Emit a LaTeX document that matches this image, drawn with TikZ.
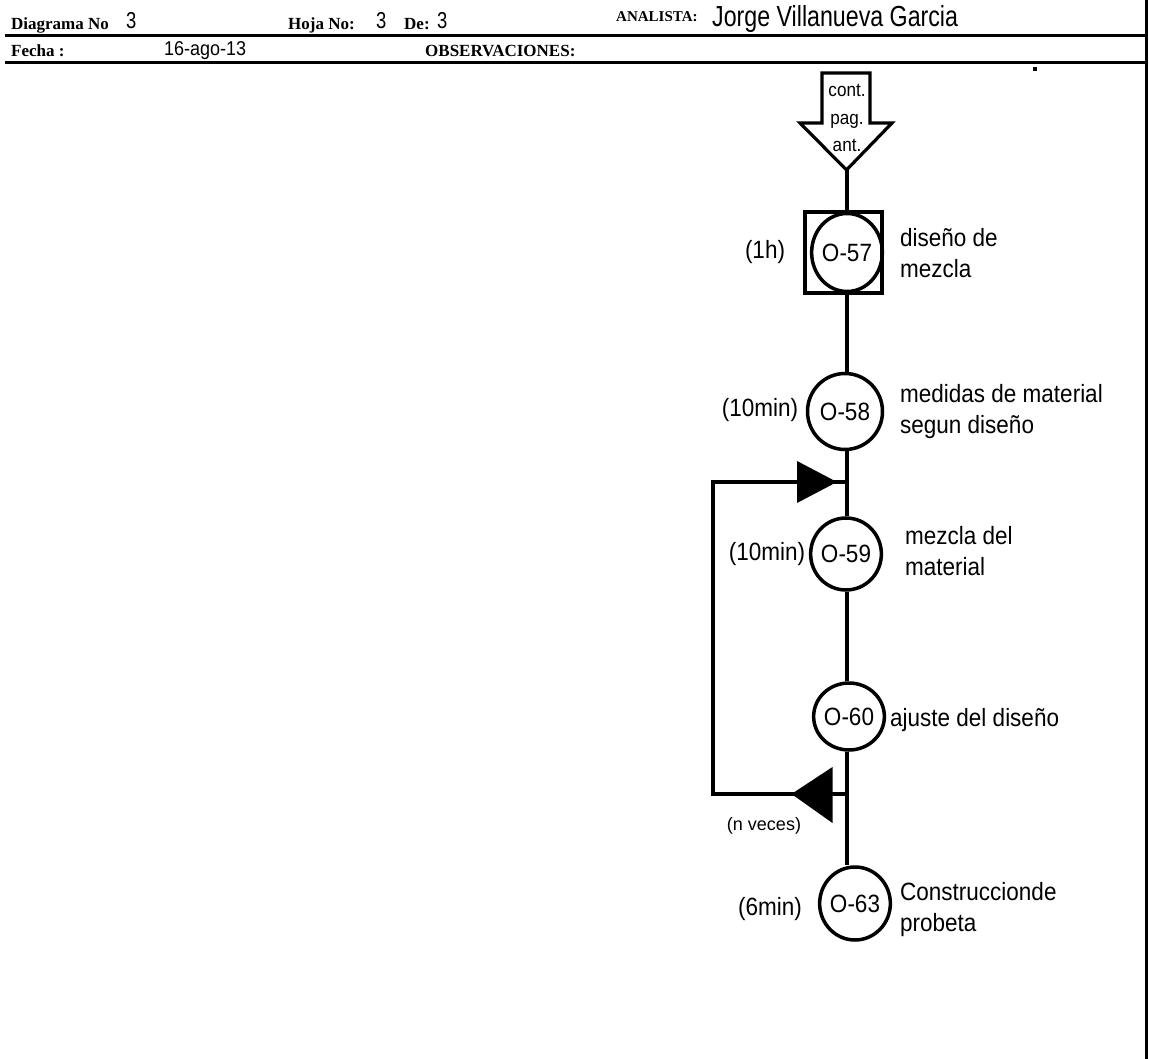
\documentclass[tikz,border=0pt]{standalone}
\usepackage{fontspec}
\setmainfont{Liberation Sans}[FakeStretch=0.9]
\newfontfamily\hdr{Liberation Serif}
\newfontfamily\narrow[FakeStretch=0.8]{Liberation Sans}
\newfontfamily\plain{Liberation Sans}
\usetikzlibrary{shapes.geometric,calc}
\tikzset{
  thick line/.style={line width=4pt},
  opc/.style={draw, line width=3.5pt, ellipse, inner sep=0pt, font=\fontsize{25}{25}\selectfont},
  hlabel/.style={font=\hdr\bfseries\fontsize{17}{17}\selectfont, inner sep=0pt, anchor=base west},
  hval/.style={font=\narrow\fontsize{23}{23}\selectfont, inner sep=0pt, anchor=base west},
  tlabel/.style={font=\fontsize{25}{31}\selectfont, inner sep=0pt, align=left, anchor=west},
  ttime/.style={font=\fontsize{25}{25}\selectfont, inner sep=0pt, anchor=base},
}
\begin{document}
\begin{tikzpicture}[x=1pt,y=-1pt]
\useasboundingbox (0,0) rectangle (1149,1059);
% header
\draw[line width=3pt] (5,36) -- (1147,36);
\draw[line width=3pt] (5,63) -- (1147,63);
\draw[line width=2.5pt] (1146.5,0) -- (1146.5,1059);
\fill (1033,67) rectangle (1037,71);
\node[hlabel] (dn) at (11,30) {Diagrama No};
\node[hval] (dnv) at (126,29) {3};
\node[hlabel] (hn) at (288,30) {Hoja No:};
\node[hval] (hnv) at (376,29) {3};
\node[hlabel] (de) at (404,30) {De:};
\node[hval] (dev) at (437,29) {3};
\node[hlabel, font=\hdr\bfseries\fontsize{15}{15}\selectfont] (an) at (616,22) {ANALISTA:};
\node[hval, font=\narrow\fontsize{29}{29}\selectfont] (anv) at (712,27) {Jorge Villanueva Garcia};
\node[hlabel] (fe) at (11,57) {Fecha :};
\node[hval, font=\fontsize{20}{20}\selectfont] (fev) at (164,56) {16-ago-13};
\node[hlabel] (ob) at (425,57) {OBSERVACIONES:};
% cont pag ant arrow
\draw[line width=3.2pt, line join=miter] (822,73) -- (870,73) -- (870,123) -- (892,123) -- (846.5,170) -- (800,123) -- (822,123) -- cycle;
\coordinate (cpa) at (846.5,170);
\node[font=\fontsize{19}{27.5}\selectfont, align=center, inner sep=0pt] (cpat) at (847,118) {cont.\\pag.\\ant.};
% nodes
\node[draw, line width=3.3pt, minimum width=77pt, minimum height=81pt, inner sep=0pt] (sq) at (843.5,252.5) {};
\node[opc, minimum width=70pt, minimum height=78pt] (o57) at (847,252.5) {O-57};
\node[opc, minimum width=75pt, minimum height=76pt] (o58) at (845,411.5) {O-58};
\node[opc, minimum width=68pt, minimum height=72pt] (o59) at (846,554) {O-59};
\node[opc, minimum width=67pt, minimum height=67pt] (o60) at (849,716.5) {O-60};
\node[opc, minimum width=66pt, minimum height=73pt] (o63) at (855,903.5) {O-63};
% connectors
\draw[thick line] (cpa) -- (sq.north -| cpa);
\draw[thick line] (sq.south -| cpa) -- (o58.north -| cpa);
\draw[thick line] (o58.south -| cpa) -- (o59.north -| cpa);
\draw[thick line] (o59.south -| cpa) -- (o60.north -| cpa);
\draw[thick line] (o60.south -| cpa) -- (o63.north -| cpa);
% loop
\coordinate (j1) at (846.5,482);
\coordinate (j2) at (846.5,794);
\coordinate (l1) at (712.5,482);
\coordinate (l2) at (712.5,794);
\draw[thick line, line join=miter] (j2) -- (l2) -- (l1) -- (j1);
\fill ($(j1)+(-9.5,0)$) -- ++(-40,-21) -- ++(0,42) -- cycle;
\fill ($(j2)+(-55,0)$) -- ++(41,-27) -- ++(0,56) -- cycle;
\node[font=\plain\fontsize{18}{18}\selectfont, inner sep=0pt] (nv) at (764,826) {(n veces)};
% labels
\node[ttime] (t57) at (765,259) {(1h)};
\node[ttime] (t58) at (760,417) {(10min)};
\node[ttime] (t59) at (767,560) {(10min)};
\node[ttime] (t63) at (770,915) {(6min)};
\node[tlabel] (d57) at (900,253) {diseño de\\mezcla};
\node[tlabel] (d58) at (900,412) {medidas de material\\segun diseño};
\node[tlabel] (d59) at (905,551) {mezcla del\\material};
\node[tlabel, anchor=base west] (d60) at (890,726) {ajuste del diseño};
\node[tlabel] (d63) at (900,910) {Construccionde\\probeta};
\end{tikzpicture}
\end{document}
